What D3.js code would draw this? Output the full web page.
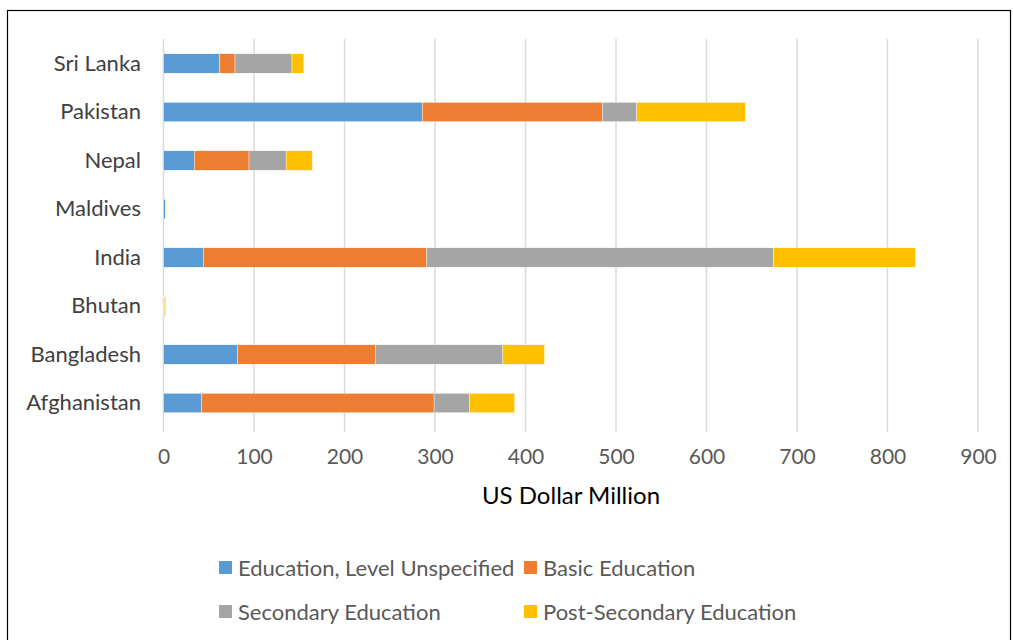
<!DOCTYPE html>
<html><head><meta charset="utf-8">
<script src="https://cdn.jsdelivr.net/npm/d3@7"></script>
<style>body{margin:0;background:#fff;} svg{display:block;}</style>
</head><body><svg id="c" width="1013" height="640"></svg>
<script>
const categories = ["Sri Lanka","Pakistan","Nepal","Maldives","India","Bhutan","Bangladesh","Afghanistan"];
const seriesNames = ["Education, Level Unspecified","Basic Education","Secondary Education","Post-Secondary Education"];
const unspecified = [62, 286, 34, 2.2, 44, 0.3, 82, 42];
const basic       = [17, 199, 60.5, 0.2, 247, 0.3, 152, 257];
const secondary   = [63, 38, 41, 0.3, 383, 0.3, 141, 39];
const postSecondary = [13, 120, 29, 0.4, 157, 1.6, 46, 50];
const xTicks = [0,100,200,300,400,500,600,700,800,900];
const colors = ["#5b9bd5","#ed7d31","#a5a5a5","#ffc000"];

const svg = d3.select("#c");
const font = "Lato, 'Open Sans', sans-serif";
svg.append("rect").attr("x",7.5).attr("y",10.5).attr("width",1003).attr("height",640)
  .attr("fill","none").attr("stroke","#000").attr("stroke-width",1.2);

const x = d3.scaleLinear().domain([0,900]).range([163.5,978]);
const y = d3.scaleBand().domain(categories).range([39.25,427.25]).paddingInner(0.6).paddingOuter(0.3);

// gridlines
svg.append("g").selectAll("line").data(xTicks).join("line")
  .attr("x1",d=>x(d)).attr("x2",d=>x(d)).attr("y1",39).attr("y2",432)
  .attr("stroke","#d9d9d9").attr("stroke-width",1.5);

const rows = categories.map((c,i)=>({cat:c, v:[unspecified[i],basic[i],secondary[i],postSecondary[i]]}));
const stackData = rows.map(r=>{const o={cat:r.cat}; seriesNames.forEach((s,j)=>o[s]=r.v[j]); return o;});
const stacked = d3.stack().keys(seriesNames)(stackData);

svg.append("g").selectAll("g").data(stacked).join("g")
  .attr("fill",(d,i)=>colors[i])
  .selectAll("rect").data(d=>d).join("rect")
  .attr("x",d=>x(d[0])).attr("width",d=>Math.max(0,x(d[1])-x(d[0])))
  .attr("y",d=>y(d.data.cat)).attr("height",y.bandwidth())
  .attr("stroke","#fff").attr("stroke-width",0.4);

// category labels
const yAxis = d3.axisLeft(y).tickSize(0).tickPadding(0);
const yg = svg.append("g").attr("transform","translate(141,0)").call(yAxis);
yg.select(".domain").remove();
yg.selectAll("text").attr("font-family",font).attr("font-size",22).attr("fill","#404040");

// x ticks
const xAxis = d3.axisBottom(x).tickValues(xTicks).tickSize(0).tickPadding(0);
const xg = svg.append("g").attr("transform","translate(0,449)").call(xAxis);
xg.select(".domain").remove();
xg.selectAll("text").attr("font-family",font).attr("font-size",21).attr("fill","#595959");

svg.append("text").attr("x",571).attr("y",504).attr("text-anchor","middle")
  .attr("font-family",font).attr("font-size",24).attr("fill","#000").text("US Dollar Million");

// legend
const legPos = [[219,568],[524,568],[219,612],[524,612]];
const lg = svg.append("g").selectAll("g").data(seriesNames).join("g")
  .attr("transform",(d,i)=>`translate(${legPos[i][0]},${legPos[i][1]})`);
lg.append("rect").attr("x",0).attr("y",-7).attr("width",13).attr("height",13).attr("fill",(d,i)=>colors[i]);
lg.append("text").attr("x",19).attr("y",0).attr("dy","0.35em")
  .attr("font-family",font).attr("font-size",22).attr("fill","#595959").text(d=>d);
</script></body></html>
